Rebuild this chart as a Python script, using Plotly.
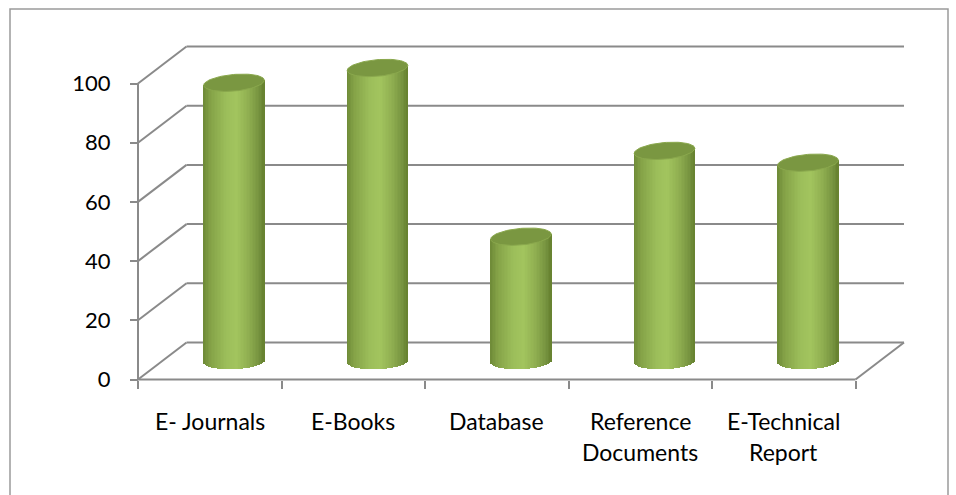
import numpy as np
import plotly.graph_objects as go

# ---------------- data ----------------
categories = ["E- Journals", "E-Books", "Database", "Reference\nDocuments", "E-Technical\nReport"]
values = [94, 99, 42, 71, 67]
y_ticks = [0, 20, 40, 60, 80, 100]

# ---------------- geometry ----------------
W_FIG, H_FIG = 956, 495
L, R, T, B = 120, 45, 35, 110
PX_X = 143.5      # px per category on the front plane
PX_Y = 2.96       # px per value unit
X0_PX = 138       # pixel of the front-left corner
Y0_PX = 379.5     # pixel of value 0 on the front plane
plot_w = W_FIG - L - R
plot_h = H_FIG - T - B
xmin = -0.5 - (X0_PX - L) / PX_X
xmax = xmin + plot_w / PX_X
ymin = -(H_FIG - B - Y0_PX) / PX_Y
ymax = ymin + plot_h / PX_Y

DX = 48.5 / PX_X          # depth offset (x)
DY = 37.0 / PX_Y          # depth offset (y)
BAR_W = 60.7 / PX_X       # cylinder diameter
RY = 8.3 / PX_Y           # ellipse half height
TILT_TOP = 2.5 / PX_Y
TILT_BOT = 1.2 / PX_Y
N_STRIPS = 40

GRID = "#8a8a8a"
TICK_FONT = dict(family="Lato", size=22, color="#000000")
CAT_FONT = dict(family="Lato", size=23, color="#000000")

n = len(categories)
xpos = list(range(n))


def hex_to_rgb(h):
    h = h.lstrip("#")
    return np.array([int(h[i:i + 2], 16) for i in (0, 2, 4)], dtype=float)


grad_stops = [(0.0, "#6e8a37"), (0.12, "#84a247"), (0.38, "#9cbe5a"),
              (0.55, "#a2c45e"), (0.75, "#8fae50"), (0.92, "#76933f"), (1.0, "#65802f")]


def grad(t):
    for (t0, c0), (t1, c1) in zip(grad_stops[:-1], grad_stops[1:]):
        if t0 <= t <= t1:
            f = (t - t0) / (t1 - t0)
            c = hex_to_rgb(c0) * (1 - f) + hex_to_rgb(c1) * f
            return "rgb(%d,%d,%d)" % tuple(np.round(c))
    return grad_stops[-1][1]


fig = go.Figure()

# cylinder bodies (placed at mid depth): vertical strips of a bar trace
sw = BAR_W / N_STRIPS
for j in range(N_STRIPS):
    u = -1 + (2 * j + 1) / N_STRIPS
    base = DY / 2 - RY * np.sqrt(1 - u * u) + TILT_BOT * u
    tops = [DY / 2 + v + TILT_TOP * u for v in values]
    fig.add_trace(go.Bar(
        x=xpos, y=[t - base for t in tops], base=base,
        width=sw * 1.25, offset=DX / 2 - BAR_W / 2 + j * sw,
        marker=dict(color=grad((u + 1) / 2), line=dict(width=0)),
        hoverinfo="skip", showlegend=False))

# cylinder tops
tt = np.linspace(0, 2 * np.pi, 80)
ex, ey = [], []
for i, v in zip(xpos, values):
    cx = i + DX / 2
    ex += list(cx + BAR_W / 2 * np.cos(tt)) + [None]
    ey += list(DY / 2 + v + RY * np.sin(tt) + TILT_TOP * np.cos(tt)) + [None]
fig.add_trace(go.Scatter(x=ex, y=ey, mode="lines", fill="toself",
                         fillcolor="#7a9741", line=dict(color="#8aa84d", width=1),
                         hoverinfo="skip", showlegend=False))

# invisible trace for the tick axis
fig.add_trace(go.Scatter(x=[-0.5], y=[0], xaxis="x2", mode="markers",
                         marker=dict(opacity=0), hoverinfo="skip", showlegend=False))

shapes = []
left, right = -0.5, n - 0.5
for v in y_ticks:
    shapes.append(dict(type="line", xref="x", yref="y", x0=left + DX, y0=v + DY,
                       x1=right + DX, y1=v + DY, line=dict(color=GRID, width=2), layer="below"))
    shapes.append(dict(type="line", xref="x", yref="y", x0=left, y0=v,
                       x1=left + DX, y1=v + DY, line=dict(color=GRID, width=2), layer="below"))
shapes.append(dict(type="line", xref="x", yref="y", x0=right, y0=0, x1=right + DX, y1=DY,
                   line=dict(color=GRID, width=2), layer="below"))
shapes.append(dict(type="line", xref="x", yref="y", x0=left, y0=0, x1=right, y1=0,
                   line=dict(color=GRID, width=2), layer="below"))
shapes.append(dict(type="line", xref="x", yref="y", x0=left, y0=0, x1=left, y1=y_ticks[-1],
                   line=dict(color=GRID, width=2), layer="below"))
# chart border
shapes.append(dict(type="rect", xref="paper", yref="paper",
                   x0=(10 - L) / plot_w, x1=(948 - L) / plot_w,
                   y0=(H_FIG - B - 520) / plot_h, y1=(H_FIG - B - 9) / plot_h,
                   line=dict(color="#9a9a9a", width=1.5), layer="below"))

annotations = []
for i, cat in enumerate(categories):
    for k, line in enumerate(cat.split("\n")):
        annotations.append(dict(x=i, y=0, xref="x", yref="y", text=line, showarrow=False,
                                xanchor="center", yanchor="middle",
                                yshift=-(41 + 31.7 * k), font=CAT_FONT))

fig.update_layout(
    width=W_FIG, height=H_FIG,
    margin=dict(l=L, r=R, t=T, b=B),
    paper_bgcolor="white", plot_bgcolor="white",
    barmode="overlay", bargap=0,
    showlegend=False,
    shapes=shapes, annotations=annotations,
    xaxis=dict(range=[xmin, xmax], showticklabels=False, ticks="", showgrid=False,
               zeroline=False, showline=False, fixedrange=True),
    xaxis2=dict(range=[xmin, xmax], overlaying="x", anchor="free",
                position=(H_FIG - B - Y0_PX) / plot_h,
                tickvals=[i - 0.5 for i in range(n + 1)], showticklabels=False,
                ticks="outside", ticklen=8, tickwidth=2, tickcolor=GRID,
                showgrid=False, zeroline=False, showline=False),
    yaxis=dict(range=[ymin, ymax], tickvals=y_ticks, ticks="outside", ticklen=8,
               tickwidth=2, tickcolor=GRID, showgrid=False, zeroline=False,
               showline=False, anchor="free", position=(X0_PX - L) / plot_w,
               tickfont=TICK_FONT, ticklabelstandoff=15),
)

fig.write_html("out.html", config={"displayModeBar": False},
               post_script="document.body.style.margin='0';document.body.style.overflow='hidden';")
